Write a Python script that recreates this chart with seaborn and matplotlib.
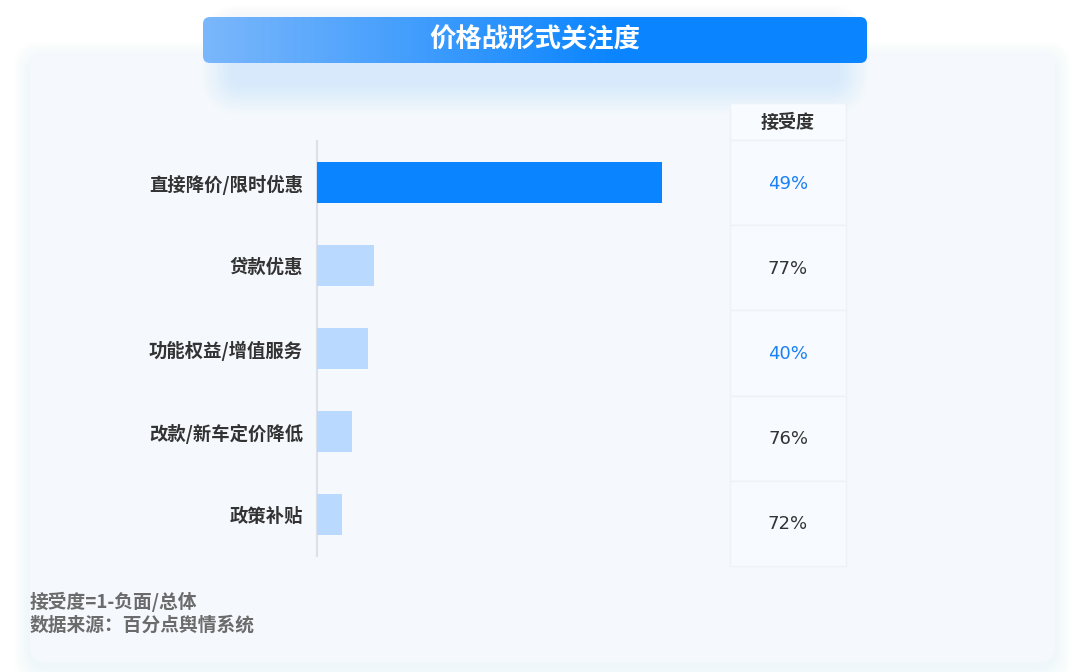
import matplotlib.pyplot as plt
import numpy as np
import seaborn as sns
from matplotlib.patches import FancyBboxPatch, Rectangle
from matplotlib.colors import LinearSegmentedColormap

# Data
categories = ['直接降价/限时优惠', '贷款优惠', '功能权益/增值服务', '改款/新车定价降低', '政策补贴']
attention = [60.5, 10.0, 8.9, 6.1, 4.4]
acceptance = ['49%', '77%', '40%', '76%', '72%']
acc_colors = ['#1a80f5', '#333333', '#1a80f5', '#333333', '#333333']
bar_colors = ['#0a84ff', '#b9d9ff', '#b9d9ff', '#b9d9ff', '#b9d9ff']
title = '价格战形式关注度'
notes = ['接受度=1-负面/总体', '数据来源：百分点舆情系统']

sns.set_theme(style='white')
plt.rcParams['font.family'] = ['Noto Sans CJK SC', 'DejaVu Sans']

W, H = 1080, 672
fig = plt.figure(figsize=(W / 100, H / 100), dpi=100)
fig.patch.set_facecolor('white')

# background layer in pixel coordinates
bg = fig.add_axes([0, 0, 1, 1])
bg.set_xlim(0, W)
bg.set_ylim(H, 0)
bg.axis('off')

# soft shadow of the panel
for i in range(8):
    pad = 16 - i * 2
    bg.add_patch(FancyBboxPatch((30 - pad, 52 - pad + 6), 1025 + 2 * pad, 610 + 2 * pad,
                                boxstyle='round,pad=0,rounding_size=24',
                                fc='#d6e6fb', ec='none', alpha=0.035, zorder=1))
bg.add_patch(FancyBboxPatch((30, 52), 1025, 610, boxstyle='round,pad=0,rounding_size=16',
                            fc='#f5f9fe', ec='none', zorder=2))

# title box glow
for i in range(16):
    pad = 32 - i * 2
    bg.add_patch(FancyBboxPatch((203 - pad + 30, 17 - pad + 20), 664 + 2 * pad - 60, 46 + 2 * pad,
                                boxstyle='round,pad=0,rounding_size=%d' % (pad + 10),
                                fc='#b2d2fb', ec='none', alpha=0.022, zorder=3))
tbox = FancyBboxPatch((203, 17), 664, 46, boxstyle='round,pad=0,rounding_size=7',
                      fc='none', ec='none', zorder=4)
bg.add_patch(tbox)
grad_cmap = LinearSegmentedColormap.from_list('g', [(0, '#7bb7fb'), (0.62, '#0b85ff'), (1, '#0a84ff')])
grad = np.linspace(0, 1, 256).reshape(1, -1)
im = bg.imshow(grad, cmap=grad_cmap, extent=[203, 867, 63, 17], aspect='auto', zorder=4)
im.set_clip_path(tbox)
bg.set_xlim(0, W)
bg.set_ylim(H, 0)
bg.text(535, 40, title, color='white', fontsize=19, fontweight='bold',
        ha='center', va='center', zorder=5)

# acceptance table
col_x0, col_x1 = 730, 846
bg.add_patch(Rectangle((col_x0, 103), col_x1 - col_x0, 37, fc='#f8fbff', ec='#edf2f9', lw=1, zorder=3))
bg.text((col_x0 + col_x1) / 2, 122, '接受度', color='#333333', fontsize=13,
        fontweight='bold', ha='center', va='center', zorder=5)
row_top = 140
row_h = 85.2
for i, (txt, c) in enumerate(zip(acceptance, acc_colors)):
    y0 = row_top + i * row_h
    bg.add_patch(Rectangle((col_x0, y0), col_x1 - col_x0, row_h, fc='#f7faff', ec='#edf2f9',
                           lw=1, zorder=3))
    bg.text((col_x0 + col_x1) / 2, y0 + row_h / 2 + 1, txt, color=c, fontsize=13,
            family='DejaVu Sans', ha='center', va='center', zorder=5)

# notes
for i, t in enumerate(notes):
    bg.text(30, 602 + i * 23, t, color='#6b6b6b', fontsize=13.5, fontweight='bold',
            ha='left', va='center', zorder=5)

# bar chart
ax = fig.add_axes([317 / W, 1 - 556 / H, 400 / W, (556 - 141) / H])
ax.set_facecolor('none')
sns.barplot(x=attention, y=categories, hue=categories, palette=bar_colors, legend=False,
            width=0.5, orient='h', saturation=1, linewidth=0, ax=ax, zorder=3)
ax.set_xlim(0, 60.5 * 400 / 345)
ax.set_ylim(4.5, -0.5)
ax.set_xticks([])
ax.set_xlabel('')
ax.set_ylabel('')
for s in ['top', 'right', 'bottom']:
    ax.spines[s].set_visible(False)
ax.spines['left'].set_color('#dde1e7')
ax.spines['left'].set_linewidth(1.5)
ax.tick_params(axis='y', length=0, pad=10, labelsize=13.2, labelcolor='#333333')
for lab in ax.get_yticklabels():
    lab.set_fontweight('bold')

fig.savefig('out.png', dpi=100, facecolor='white')
